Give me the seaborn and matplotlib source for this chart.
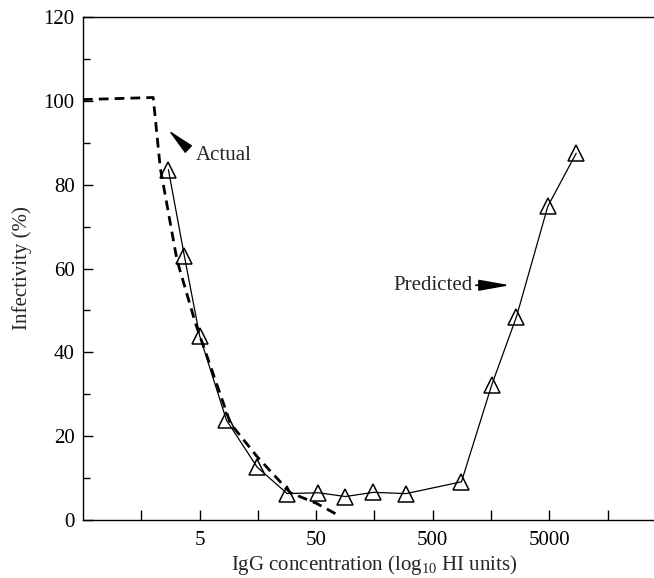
import numpy as np
import pandas as pd
import matplotlib
matplotlib.use("Agg")
import matplotlib.pyplot as plt
import seaborn as sns

# Predicted infectivity (triangles)
pred_conc = [2.7, 3.7, 5.0, 8.5, 15.6, 28.2, 52.3, 89, 155, 295, 880, 1600, 2610, 4840, 8490]
pred_inf = [83.6, 63.0, 44.0, 23.8, 12.6, 6.3, 6.5, 5.6, 6.6, 6.3, 9.1, 32.2, 48.5, 74.8, 87.5]

# Actual infectivity (dashed)
act_conc = [0.5, 2.0, 2.3, 3.2, 4.6, 9.2, 15.7, 30, 50, 79]
act_inf = [100.3, 100.8, 84, 62, 47, 23, 15, 6.5, 4.0, 1.0]

xticks_major = [5, 50, 500, 5000]
xtick_labels = ["5", "50", "500", "5000"]
xticks_minor = [1.58, 15.8, 158, 1581, 15811]
yticks_major = [0, 20, 40, 60, 80, 100, 120]
yticks_minor = [10, 30, 50, 70, 90, 110]

sns.set_style("ticks")
plt.rcParams["font.family"] = ["Liberation Serif", "DejaVu Serif"]
plt.rcParams["mathtext.fontset"] = "custom"
plt.rcParams["mathtext.rm"] = "Liberation Serif"
plt.rcParams["mathtext.it"] = "Liberation Serif:italic"

fig = plt.figure(figsize=(6.54, 5.78), dpi=100)
ax = fig.add_axes([83 / 654, 58 / 578, (666 - 83) / 654, (520 - 17) / 578])

pred = pd.DataFrame({"conc": pred_conc, "inf": pred_inf})
act = pd.DataFrame({"conc": act_conc, "inf": act_inf})

sns.lineplot(data=act, x="conc", y="inf", ax=ax, color="black", lw=2.0,
             linestyle=(0, (3.5, 2.2)), sort=False, estimator=None)
sns.lineplot(data=pred, x="conc", y="inf", ax=ax, color="black", lw=0.9,
             marker="^", markersize=12, markerfacecolor="none",
             markeredgecolor="black", markeredgewidth=1.1, sort=False, estimator=None)

ax.set_xscale("log")
ax.set_xlim(0.5, 50000)
ax.set_ylim(0, 120)
ax.set_xticks(xticks_major)
ax.set_xticklabels(xtick_labels)
ax.set_xticks(xticks_minor, minor=True)
ax.set_xticklabels([], minor=True)
ax.set_yticks(yticks_major)
ax.set_yticks(yticks_minor, minor=True)

ax.tick_params(axis="both", which="both", direction="in", colors="black",
               labelsize=15, width=1.0)
ax.tick_params(axis="x", which="both", length=7, pad=8)
ax.tick_params(axis="y", which="major", length=7, pad=6)
ax.tick_params(axis="y", which="minor", length=5)

for s in ["top", "left", "bottom"]:
    ax.spines[s].set_visible(True)
    ax.spines[s].set_color("black")
    ax.spines[s].set_linewidth(1.0)
ax.spines["right"].set_visible(False)

ax.set_xlabel(r"IgG concentration (log$_{10}$ HI units)", fontsize=15, labelpad=2)
ax.set_ylabel("Infectivity (%)", fontsize=15, labelpad=8)

ax.annotate("", xy=(2.70, 93.0), xytext=(3.9, 88.8),
            arrowprops=dict(arrowstyle="-|>,head_length=1.7,head_width=0.32",
                            color="black", lw=1.0, shrinkA=0, shrinkB=0))
ax.text(4.6, 87.0, "Actual", fontsize=15, ha="left", va="center")

ax.annotate("", xy=(2300, 56), xytext=(1170, 56),
            arrowprops=dict(arrowstyle="-|>,head_length=1.9,head_width=0.34",
                            color="black", lw=1.2, shrinkA=0, shrinkB=0))
ax.text(1100, 56, "Predicted", fontsize=15, ha="right", va="center")

fig.savefig("out.png", dpi=100)
